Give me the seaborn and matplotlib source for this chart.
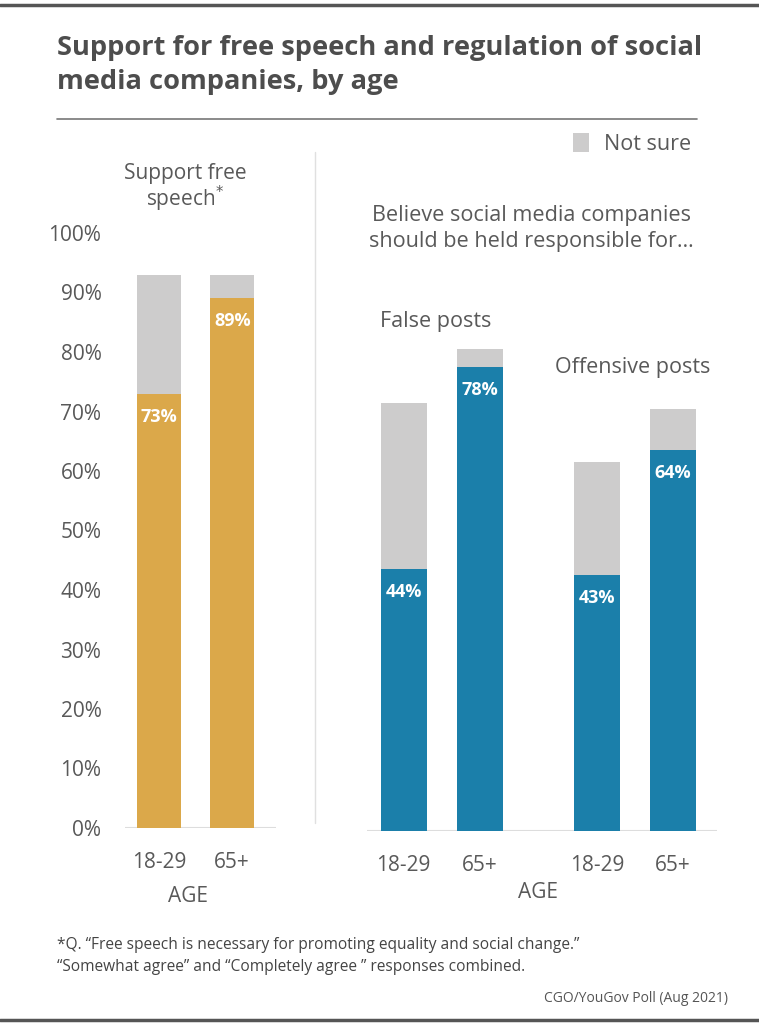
import matplotlib
matplotlib.use('Agg')
import matplotlib.pyplot as plt
from matplotlib.patches import Patch
from matplotlib.lines import Line2D
import seaborn as sns

# dados
idades = ['18-29', '65+']
liberdade_expressao = [73, 89]
liberdade_nao_sabe = [20, 4]
posts_falsos = [44, 78]
posts_falsos_nao_sabe = [28, 3]
posts_ofensivos = [43, 64]
posts_ofensivos_nao_sabe = [19, 7]
ticks_y = [0, 10, 20, 30, 40, 50, 60, 70, 80, 90, 100]

laranja = '#DBA84A'
azul = '#1B7FAA'
cinza = '#CDCCCC'
texto = '#595959'

sns.set_theme(style='white')
plt.rcParams['font.family'] = ['Open Sans', 'DejaVu Sans']

W, H = 759, 1024
fig = plt.figure(figsize=(W / 100, H / 100), dpi=100)


def eixo(x0, x1, y0, y1):
    # caixa em pixels (y0 = topo, y1 = base)
    return fig.add_axes([x0 / W, 1 - y1 / H, (x1 - x0) / W, (y1 - y0) / H])


def barras(ax, valores, nao_sabe, cor, xlim):
    total = [v + n for v, n in zip(valores, nao_sabe)]
    sns.barplot(x=idades, y=total, color=cinza, width=0.6, saturation=1,
                linewidth=0, ax=ax)
    sns.barplot(x=idades, y=valores, color=cor, width=0.6, saturation=1,
                linewidth=0, ax=ax)
    for i, v in enumerate(valores):
        ax.annotate(f'{v}%', (i, v), xytext=(0, -23), textcoords='offset pixels',
                    ha='center', va='center', color='white', fontsize=13,
                    fontweight='bold')
    ax.set_xlim(*xlim)
    ax.set_ylim(0, 100)
    ax.axhline(0, color='#DDDDDD', lw=1.5, zorder=0)
    sns.despine(ax=ax, left=True, bottom=True)
    ax.tick_params(axis='x', length=0, pad=17, labelsize=15, labelcolor=texto)
    ax.set_xlabel('')
    ax.set_ylabel('')


# painel esquerdo
ax1 = eixo(125, 276, 233, 828)
barras(ax1, liberdade_expressao, liberdade_nao_sabe, laranja, (-0.47, 1.6))
ax1.set_yticks(ticks_y)
ax1.set_yticklabels([f'{t}%' for t in ticks_y])
ax1.tick_params(axis='y', length=0, pad=17, labelsize=15, labelcolor=texto)

# painel direito
ax2 = eixo(367, 541, 236, 831)
barras(ax2, posts_falsos, posts_falsos_nao_sabe, azul, (-0.48, 1.8))
ax2.set_yticks([])
ax3 = eixo(541, 717, 236, 831)
barras(ax3, posts_ofensivos, posts_ofensivos_nao_sabe, azul, (-0.74, 1.58))
ax3.set_yticks([])


def px(x, y):
    return x / W, 1 - y / H


# linhas de moldura
fig.add_artist(Line2D([0, 1], [1 - 5 / H] * 2, color='#555555', lw=2.5))
fig.add_artist(Line2D([0, 1], [1 - 1020 / H] * 2, color='#555555', lw=2.5))
fig.add_artist(Line2D([57 / W, 697 / W], [1 - 119 / H] * 2, color='#777777', lw=1.2))
fig.add_artist(Line2D([315 / W] * 2, [1 - 152 / H, 1 - 823 / H], color='#E0E0E0', lw=1))

# título
fig.text(*px(57, 48), 'Support for free speech and regulation of social',
         fontsize=19.6, fontweight='bold', color='#4D4D4D', va='center')
fig.text(*px(57, 82), 'media companies, by age',
         fontsize=19.6, fontweight='bold', color='#4D4D4D', va='center')

# legenda
fig.legend(handles=[Patch(facecolor=cinza, edgecolor='none')], labels=['Not sure'],
           loc='center right', bbox_to_anchor=px(711, 144), frameon=False,
           fontsize=15.5, handlelength=0.75, handleheight=1.0, handletextpad=0.7,
           labelcolor=texto)

# rótulos dos painéis
fig.text(*px(185, 173), 'Support free', fontsize=15, color=texto, ha='center', va='center')
fig.text(*px(185, 199), 'speech$^{*}$', fontsize=15, color=texto, ha='center', va='center')
fig.text(*px(531, 216), 'Believe social media companies', fontsize=15.6, color=texto,
         ha='center', va='center')
fig.text(*px(531, 242), 'should be held responsible for…', fontsize=15.6, color=texto,
         ha='center', va='center')
fig.text(*px(380, 322), 'False posts', fontsize=15.5, color=texto, va='center')
fig.text(*px(555, 368), 'Offensive posts', fontsize=15.5, color=texto, va='center')
fig.text(*px(188, 897), 'AGE', fontsize=15, color=texto, ha='center', va='center')
fig.text(*px(538, 893), 'AGE', fontsize=15, color=texto, ha='center', va='center')

# notas
fig.text(*px(57, 945), '*Q. “Free speech is necessary for promoting equality and social change.”',
         fontsize=11.2, color='#444444', va='center')
fig.text(*px(57, 967), '“Somewhat agree” and “Completely agree ” responses combined.',
         fontsize=11.2, color='#444444', va='center')
fig.text(*px(728, 998), 'CGO/YouGov Poll (Aug 2021)', fontsize=10, color='#555555',
         ha='right', va='center')

fig.savefig('out.png', dpi=100)
